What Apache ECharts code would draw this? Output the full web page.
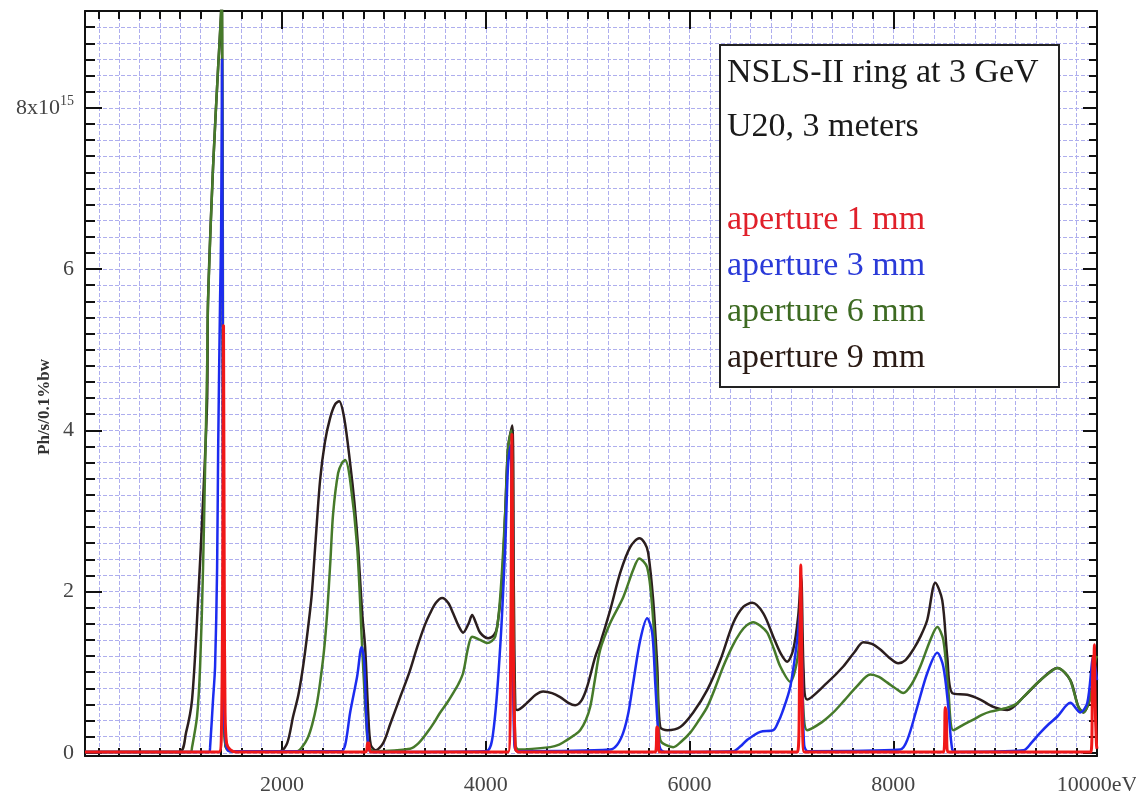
<!DOCTYPE html>
<html>
<head>
<meta charset="utf-8">
<script src="https://cdn.jsdelivr.net/npm/echarts@6/dist/echarts.min.js"></script>
<style>
html,body{margin:0;padding:0;background:#fff;}
#chart{width:1136px;height:791px;}
</style>
</head>
<body>
<div id="chart"></div>
<script>
// ---------------- data (x = photon energy in eV, y = flux in units of 1e15 Ph/s/0.1%bw) ----------------
const aperture9mm = [[65,0.01],[990,0.01],[1057,0.25],[1116,0.66],[1175,1.89],[1224,3.13],[1264,4.37],[1273,5.61],[1322,7.26],[1372,8.5],[1401,9.18],[1408,9.6],[1418,5],[1428,0.6],[1445,0.08],[1500,0.02],[1980,0.02],[2050,0.12],[2108,0.45],[2160,0.72],[2206,1.07],[2250,1.5],[2290,1.95],[2330,2.65],[2373,3.38],[2420,3.85],[2471,4.15],[2520,4.32],[2560,4.36],[2610,4.15],[2668,3.59],[2710,3.1],[2746,2.55],[2786,1.73],[2815,1.31],[2845,0.5],[2870,0.1],[2920,0.03],[2992,0.12],[3060,0.35],[3159,0.69],[3250,1.0],[3326,1.31],[3400,1.58],[3453,1.73],[3510,1.86],[3571,1.92],[3630,1.86],[3679,1.73],[3730,1.58],[3777,1.49],[3830,1.6],[3866,1.71],[3900,1.62],[3944,1.49],[4023,1.42],[4080,1.46],[4111,1.56],[4160,2.14],[4190,2.97],[4219,3.79],[4259,4.06],[4275,2.0],[4290,0.55],[4308,0.53],[4406,0.62],[4490,0.72],[4563,0.76],[4650,0.74],[4730,0.69],[4810,0.62],[4877,0.59],[4940,0.65],[4995,0.82],[5074,1.19],[5123,1.36],[5221,1.77],[5319,2.23],[5417,2.55],[5506,2.66],[5560,2.6],[5594,2.48],[5643,1.89],[5683,1.07],[5712,0.32],[5781,0.28],[5909,0.32],[6036,0.5],[6174,0.78],[6302,1.15],[6429,1.61],[6527,1.81],[6615,1.86],[6724,1.73],[6822,1.44],[6900,1.22],[6959,1.13],[7018,1.28],[7067,1.7],[7095,2.2],[7120,1.0],[7156,0.66],[7352,0.87],[7509,1.07],[7620,1.25],[7706,1.37],[7790,1.35],[7873,1.28],[7960,1.18],[8049,1.11],[8120,1.15],[8196,1.28],[8270,1.45],[8334,1.65],[8413,2.11],[8481,1.89],[8530,1.19],[8579,0.74],[8727,0.72],[8854,0.66],[8982,0.57],[9120,0.53],[9277,0.69],[9444,0.9],[9611,1.05],[9738,0.9],[9817,0.57],[9866,0.5],[9935,0.69],[9985,1.15],[10000,1.2]];

const aperture6mm = [[65,0.01],[1100,0.01],[1116,0.07],[1165,0.45],[1195,1.07],[1224,2.3],[1244,3.54],[1264,4.78],[1273,5.61],[1322,7.26],[1372,8.5],[1401,9.18],[1410,9.6],[1420,5],[1430,0.6],[1445,0.08],[1500,0.02],[2150,0.02],[2196,0.07],[2250,0.18],[2295,0.35],[2340,0.6],[2373,0.87],[2410,1.25],[2442,1.73],[2475,2.4],[2501,2.97],[2550,3.47],[2590,3.6],[2619,3.63],[2668,3.38],[2737,2.55],[2786,1.31],[2825,0.4],[2850,0.07],[2900,0.02],[3257,0.05],[3340,0.12],[3424,0.25],[3490,0.37],[3552,0.5],[3620,0.62],[3679,0.74],[3730,0.85],[3777,0.99],[3827,1.31],[3866,1.44],[3944,1.4],[4013,1.36],[4092,1.44],[4141,1.93],[4190,2.97],[4219,3.79],[4249,4.0],[4272,1.5],[4290,0.1],[4320,0.04],[4632,0.07],[4720,0.1],[4799,0.16],[4870,0.22],[4926,0.28],[4980,0.4],[5025,0.57],[5070,0.9],[5123,1.28],[5221,1.61],[5349,1.93],[5447,2.27],[5506,2.41],[5584,2.3],[5633,1.81],[5683,0.82],[5712,0.16],[5840,0.07],[5920,0.14],[6007,0.25],[6090,0.4],[6174,0.57],[6250,0.8],[6331,1.07],[6420,1.32],[6498,1.49],[6560,1.58],[6625,1.62],[6700,1.57],[6763,1.49],[6830,1.28],[6891,1.07],[6989,0.88],[7057,1.15],[7092,1.6],[7115,0.6],[7156,0.28],[7300,0.38],[7411,0.5],[7520,0.65],[7640,0.82],[7775,0.97],[7860,0.94],[7942,0.87],[8020,0.8],[8098,0.74],[8180,0.85],[8265,1.07],[8364,1.4],[8432,1.56],[8491,1.4],[8540,0.78],[8589,0.28],[8690,0.35],[8786,0.41],[8870,0.47],[8953,0.51],[9120,0.56],[9200,0.6],[9277,0.69],[9360,0.8],[9444,0.9],[9530,0.99],[9611,1.05],[9680,1.0],[9738,0.9],[9817,0.57],[9866,0.5],[9935,0.69],[9985,1.15],[10000,1.2]];

const aperture3mm = [[65,0.01],[1285,0.01],[1293,0.07],[1322,0.66],[1342,1.07],[1362,2.3],[1372,3.75],[1391,5.61],[1401,6.44],[1411,8.6],[1421,3.0],[1430,0.5],[1450,0.1],[1480,0.02],[2580,0.02],[2620,0.1],[2668,0.5],[2737,0.95],[2780,1.31],[2805,1.15],[2825,0.5],[2850,0.05],[2880,0.01],[4000,0.02],[4072,0.25],[4141,1.31],[4190,2.55],[4219,3.59],[4242,3.81],[4262,1.6],[4280,0.1],[4310,0.02],[5221,0.04],[5290,0.1],[5349,0.25],[5400,0.5],[5447,0.87],[5516,1.4],[5584,1.67],[5633,1.49],[5663,0.87],[5692,0.25],[5712,0.05],[5760,0.01],[6430,0.02],[6500,0.08],[6566,0.16],[6694,0.26],[6822,0.28],[6870,0.38],[6910,0.5],[6989,0.82],[7057,1.4],[7087,1.77],[7106,1.0],[7125,0.1],[7160,0.02],[8069,0.04],[8138,0.16],[8236,0.57],[8334,0.99],[8432,1.24],[8491,1.07],[8540,0.57],[8579,0.04],[8620,0.01],[9277,0.03],[9360,0.13],[9444,0.25],[9530,0.36],[9611,0.45],[9738,0.62],[9836,0.5],[9905,0.62],[9964,1.19],[10000,0.9]];

const aperture1mm = [[65,0.01],[1380,0.01],[1405,0.3],[1418,2.6],[1425,5.3],[1432,2.2],[1440,0.5],[1455,0.12],[1490,0.04],[1550,0.01],[2820,0.01],[2840,0.12],[2850,0.12],[2870,0.01],[4220,0.01],[4245,1.5],[4256,3.95],[4268,1.5],[4290,0.05],[4320,0.01],[5665,0.01],[5680,0.32],[5690,0.3],[5705,0.01],[7060,0.01],[7080,1.0],[7092,2.33],[7104,1.0],[7125,0.01],[8495,0.01],[8510,0.56],[8520,0.5],[8535,0.01],[9940,0.01],[9955,0.8],[9962,1.2],[9968,0.9],[9974,1.34],[9982,0.6],[9995,0.1],[10000,0.05]];

const seriesNames = ['aperture 9 mm','aperture 6 mm','aperture 3 mm','aperture 1 mm'];
const legendOrder = ['aperture 1 mm','aperture 3 mm','aperture 6 mm','aperture 9 mm'];
const titleLines = ['NSLS-II ring at 3 GeV','U20, 3 meters'];
const yAxisTitle = 'Ph/s/0.1%bw';

// tick positions
const xMinorTicks = []; for (let v = 200; v <= 10000; v += 200) xMinorTicks.push(v);
const xMajorTicks = [2000,4000,6000,8000,10000];
const xTickLabels = [2000,4000,6000,8000,10000];
const yMinorTicks = []; for (let i = 0; i <= 46; i++) yMinorTicks.push(Math.round(i*2)/10);
const yMajorTicks = [0,2,4,6,8];
const yTickLabels = [0,2,4,6,8];

// ---------------- style ----------------
const COLORS = {
  'aperture 9 mm': '#2b1e1e',
  'aperture 6 mm': '#467a2a',
  'aperture 3 mm': '#1c2cf0',
  'aperture 1 mm': '#f01818'
};
const TEXT_COLORS = {
  'aperture 9 mm': '#2a1a14',
  'aperture 6 mm': '#3d6a22',
  'aperture 3 mm': '#2a3ad8',
  'aperture 1 mm': '#e0202a'
};
const SERIF = '"Liberation Serif","Times New Roman",serif';
const X_MIN = 65, X_MAX = 10000, Y_MIN = -0.04, Y_MAX = 9.2;
const GRID_LINE = {color:'#aeaeee', type:[4,2], width:1};
const AX_LINE = {color:'#111', width:2};

function xAx(position, ticks, len, withLabels, withSplit, withLine) {
  return {
    type:'value', position, min:X_MIN, max:X_MAX, gridIndex:0,
    axisLine:{show:withLine, onZero:false, lineStyle:AX_LINE},
    axisTick:{show:true, inside:true, length:len, customValues:ticks, lineStyle:{color:'#111', width:2}},
    axisLabel: withLabels ? {
      show:true, customValues:xTickLabels, margin:18,
      fontFamily:SERIF, fontSize:22, color:'#444',
      formatter: v => v === 10000 ? '10000eV' : String(v)
    } : {show:false},
    splitLine:{show:withSplit, lineStyle:GRID_LINE}
  };
}
function yAx(position, ticks, len, withLabels, withSplit, withLine) {
  return {
    type:'value', position, min:Y_MIN, max:Y_MAX, gridIndex:0,
    axisLine:{show:withLine, onZero:false, lineStyle:AX_LINE},
    axisTick:{show:true, inside:true, length:len, customValues:ticks, lineStyle:{color:'#111', width:2}},
    axisLabel: withLabels ? {
      show:true, customValues:yTickLabels, margin:11,
      fontFamily:SERIF, fontSize:22, color:'#444',
      formatter: v => v === 8 ? '{b|8x10}{sup|15}' : '{b|' + v + '}',
      rich:{
        b:{fontFamily:SERIF, fontSize:22, color:'#444'},
        sup:{fontFamily:SERIF, fontSize:14, color:'#444', verticalAlign:'top', padding:[0,0,12,0]}
      }
    } : {show:false},
    splitLine:{show:withSplit, lineStyle:GRID_LINE}
  };
}

const dataBySeries = {
  'aperture 9 mm': aperture9mm,
  'aperture 6 mm': aperture6mm,
  'aperture 3 mm': aperture3mm,
  'aperture 1 mm': aperture1mm
};

const chart = echarts.init(document.getElementById('chart'), null, {renderer:'canvas'});
chart.setOption({
  animation:false,
  backgroundColor:'#fff',
  grid:{left:85, right:39, top:11, bottom:35, outerBoundsMode:'none', containLabel:false},
  xAxis:[
    xAx('bottom', xMinorTicks, 8, true, true, true),
    xAx('bottom', xMajorTicks, 15, false, false, false),
    xAx('top', xMinorTicks, 8, false, false, true),
    xAx('top', xMajorTicks, 18, false, false, false)
  ],
  yAxis:[
    yAx('left', yMinorTicks, 10, true, true, true),
    yAx('left', yMajorTicks, 17, false, false, false),
    yAx('right', yMinorTicks, 8, false, false, true),
    yAx('right', yMajorTicks, 14, false, false, false)
  ],
  title:{
    text: titleLines.join('\n'),
    left:727, top:46, padding:0, z:6,
    textStyle:{fontFamily:SERIF, fontSize:34, fontWeight:'normal', color:'#1a1a1a', lineHeight:54}
  },
  legend:{
    orient:'vertical', left:722, top:197, padding:0, itemGap:0,
    itemWidth:0, itemHeight:46, icon:'none', selectedMode:false, z:6,
    data: legendOrder.map(n => ({name:n, icon:'none', textStyle:{color:TEXT_COLORS[n]}})),
    textStyle:{fontFamily:SERIF, fontSize:34, lineHeight:46}
  },
  graphic:[
    {type:'rect', z:3, shape:{x:720, y:45, width:339, height:342},
     style:{fill:'#fff', stroke:'#222', lineWidth:2}},
    {type:'text', z:5, x:45, y:407, rotation:Math.PI/2,
     style:{text:yAxisTitle, font:'bold 17px ' + SERIF, fill:'#333', align:'center', verticalAlign:'middle'}}
  ],
  series: seriesNames.map(n => ({
    name:n, type:'line', xAxisIndex:0, yAxisIndex:0,
    data:dataBySeries[n], showSymbol:false, smooth:0.3,
    clip:true,
    lineStyle:{color:COLORS[n], width: n === 'aperture 1 mm' ? 3 : 2.5},
    itemStyle:{color:COLORS[n]},
    z: 2
  }))
});
</script>
</body>
</html>
